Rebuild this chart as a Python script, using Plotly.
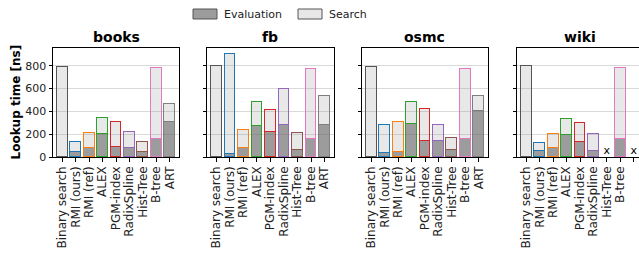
import plotly.graph_objects as go

# ---- data ----
methods = ["Binary search", "RMI (ours)", "RMI (ref)", "ALEX", "PGM-index",
           "RadixSpline", "Hist-Tree", "B-tree", "ART"]
datasets = ["books", "fb", "osmc", "wiki"]

books_total = [788, 134, 207, 344, 309, 222, 128, 777, 461]
books_eval = [0, 47, 76, 201, 90, 76, 46, 160, 309]
fb_total = [794, 905, 237, 485, 412, 596, 207, 774, 537]
fb_eval = [0, 23, 76, 275, 219, 280, 64, 158, 280]
osmc_total = [788, 283, 307, 479, 423, 283, 164, 768, 537]
osmc_eval = [0, 38, 44, 286, 143, 143, 64, 158, 406]
wiki_total = [797, 125, 199, 333, 301, 199, None, 777, None]
wiki_eval = [0, 50, 76, 190, 131, 53, None, 160, None]

edge_colors = ["#555555", "#1f77b4", "#ff7f0e", "#2ca02c", "#d62728",
               "#9467bd", "#8c564b", "#e377c2", "#7f7f7f"]
y_ticks = [0, 200, 400, 600, 800]
legend_labels = ["Evaluation", "Search"]

totals = [books_total, fb_total, osmc_total, wiki_total]
evals = [books_eval, fb_eval, osmc_eval, wiki_eval]

FONT = "DejaVu Sans"
W, H = 639, 254
ML, MR, MT, MB = 53, 0, 48, 97
PW = W - ML - MR
PH = H - MT - MB
px = lambda p: (p - ML) / PW
py = lambda p: 1 + (MT - p) / PH
domains = [(px(53), px(179)), (px(207), px(334)), (px(362), px(488)), (px(517), 1.0)]
xranges = [[-0.7, 8.7], [-0.7, 8.7], [-0.7, 8.7], [-0.7, 8.4]]

EVAL_FILL = "rgba(95,95,95,0.62)"
SEARCH_FILL = "rgba(150,150,150,0.22)"
fills = [EVAL_FILL, SEARCH_FILL]

fig = go.Figure()
for i, name in enumerate(datasets):
    xa = "x" if i == 0 else f"x{i+1}"
    ya = "y" if i == 0 else f"y{i+1}"
    tot = totals[i]
    ev = evals[i]
    se_v = [(t - e) if t is not None else None for t, e in zip(tot, ev)]
    fig.add_trace(go.Bar(
        x=list(range(len(methods))), y=ev, xaxis=xa, yaxis=ya, width=0.8,
        marker=dict(color=EVAL_FILL, line=dict(color=edge_colors, width=1.5)),
        name="Evaluation", showlegend=False, hoverinfo="skip"))
    fig.add_trace(go.Bar(
        x=list(range(len(methods))), y=se_v, xaxis=xa, yaxis=ya, width=0.8,
        marker=dict(color=SEARCH_FILL, line=dict(color=edge_colors, width=1.5)),
        name="Search", showlegend=False, hoverinfo="skip"))
    missing = [k for k, t in enumerate(tot) if t is None]
    if missing:
        fig.add_trace(go.Scatter(
            x=missing, y=[0] * len(missing), xaxis=xa, yaxis=ya, mode="text",
            text=["x"] * len(missing), textposition="top center",
            textfont=dict(size=11, color="black", family=FONT),
            showlegend=False, hoverinfo="skip"))

    xkey = "xaxis" if i == 0 else f"xaxis{i+1}"
    ykey = "yaxis" if i == 0 else f"yaxis{i+1}"
    fig.layout[xkey] = dict(
        domain=list(domains[i]), anchor=ya, range=xranges[i], automargin=False,
        tickmode="array", tickvals=list(range(len(methods))), ticktext=methods,
        tickangle=-90, ticks="outside", ticklen=3.5, tickwidth=0.8,
        tickcolor="black", showline=True, linecolor="black", linewidth=1,
        mirror=True, showgrid=False, zeroline=False,
        tickfont=dict(size=12, family=FONT, color="#222222"))
    fig.layout[ykey] = dict(
        domain=[0, 1], anchor=xa, range=[0, 955], automargin=False,
        tickmode="array", tickvals=y_ticks, showticklabels=(i == 0),
        ticks="outside", ticklen=3.5, tickwidth=0.8, tickcolor="black",
        showline=True, linecolor="black", linewidth=1, mirror=(i < 3),
        showgrid=True, gridcolor="#d9d9d9", gridwidth=1, zeroline=False,
        tickfont=dict(size=11, family=FONT, color="#222222"))
    fig.add_annotation(
        text=f"<b>{name}</b>", xref="paper", yref="paper",
        x=(domains[i][0] + (domains[i][0] + 126 / PW)) / 2, y=1,
        xanchor="center", yanchor="bottom", yshift=1, showarrow=False,
        font=dict(size=14, family=FONT, color="black"))

fig.add_annotation(
    text="<b>Lookup time [ns]</b>", xref="paper", yref="paper",
    x=px(15), y=0.5, xanchor="center", yanchor="middle", textangle=-90,
    showarrow=False, font=dict(size=12, family=FONT, color="black"))

# custom legend (wide patches like matplotlib)
leg_x = [193, 298]
for lx, lab, fc in zip(leg_x, legend_labels, fills):
    fig.add_shape(type="rect", xref="paper", yref="paper",
                  x0=px(lx), x1=px(lx + 24), y0=py(19), y1=py(9),
                  fillcolor=fc, line=dict(color="#555555", width=1))
    fig.add_annotation(text=lab, xref="paper", yref="paper",
                       x=px(lx + 29), y=py(14), xanchor="left", yanchor="middle",
                       showarrow=False,
                       font=dict(size=11, family=FONT, color="#222222"))

fig.update_layout(
    width=W, height=H, margin=dict(l=ML, r=MR, t=MT, b=MB, autoexpand=False),
    barmode="stack", bargap=0, plot_bgcolor="white", paper_bgcolor="white",
    font=dict(family=FONT, size=11, color="black"), showlegend=False,
)

fig.write_html("out.html", config={"displayModeBar": False},
               post_script="document.body.style.margin='0';"
                           "document.body.style.overflow='hidden';")
